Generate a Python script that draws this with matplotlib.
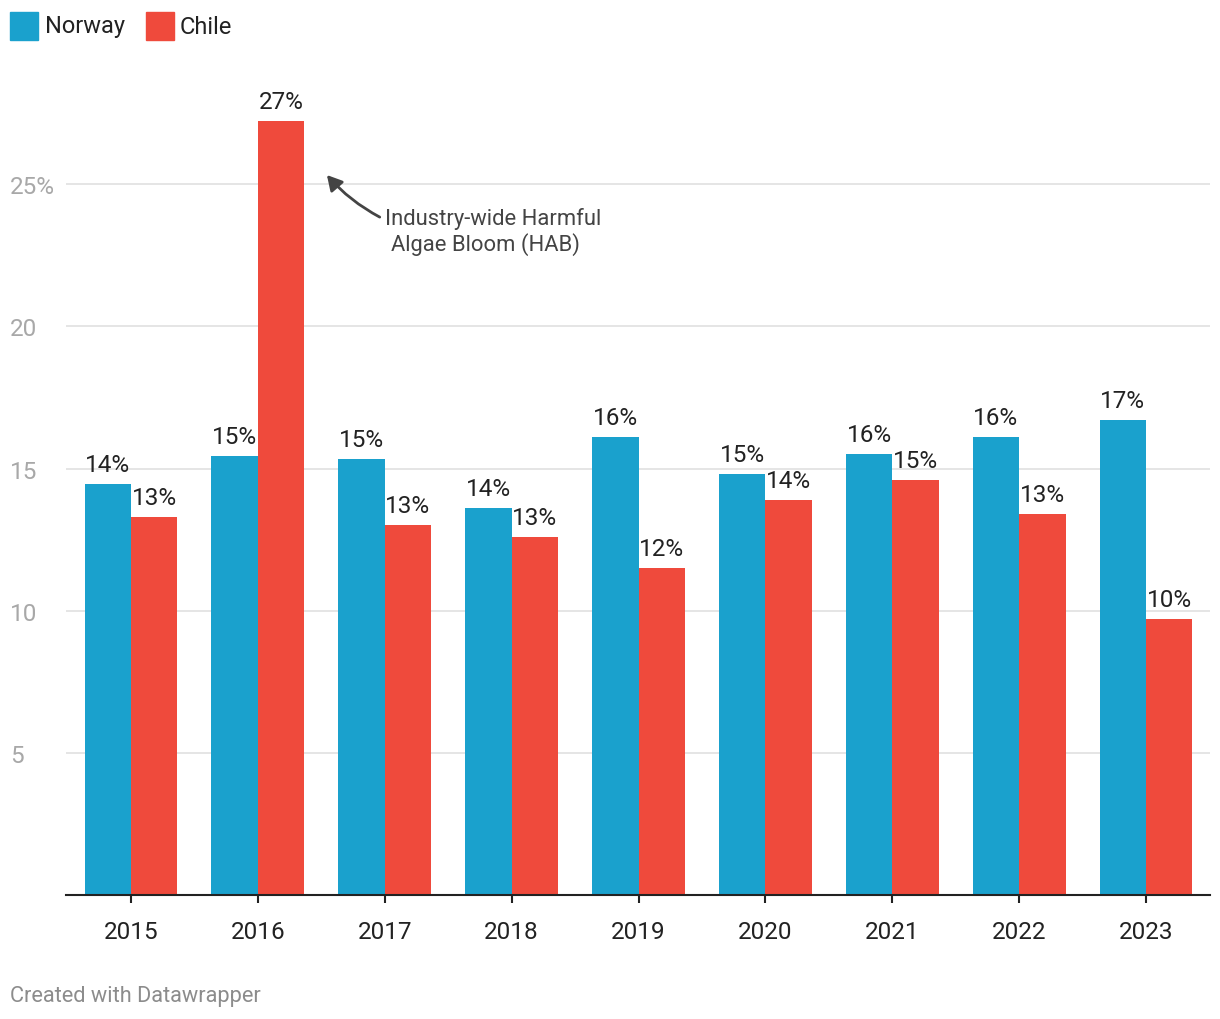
import numpy as np
import matplotlib.pyplot as plt

plt.rcParams['font.family'] = ['Roboto', 'DejaVu Sans']

years = ['2015', '2016', '2017', '2018', '2019', '2020', '2021', '2022', '2023']
norway = [14.45, 15.44, 15.33, 13.61, 16.10, 14.80, 15.51, 16.10, 16.70]
chile = [13.29, 27.21, 13.01, 12.59, 11.50, 13.89, 14.59, 13.40, 9.70]
norway_labels = ['14%', '15%', '15%', '14%', '16%', '15%', '16%', '16%', '17%']
chile_labels = ['13%', '27%', '13%', '13%', '12%', '14%', '15%', '13%', '10%']
yticks = [5, 10, 15, 20, 25]
ytick_labels = ['5', '10', '15', '20', '25%']

blue = '#1aa1cd'
red = '#ef4a3c'

fig = plt.figure(figsize=(12.2, 10.2), dpi=100)
ax = fig.add_axes([66 / 1220, 124 / 1020, 1144 / 1220, 796 / 1020])

x = np.arange(len(years))
w = 0.366
ax.bar(x - w / 2, norway, w, color=blue, zorder=2)
ax.bar(x + w / 2, chile, w, color=red, zorder=2)

for i in range(len(years)):
    ax.text(x[i] - w / 2, norway[i] + 0.3, norway_labels[i], ha='center', va='bottom',
            fontsize=17.5, color='#222222', zorder=3)
    ax.text(x[i] + w / 2, chile[i] + 0.3, chile_labels[i], ha='center', va='bottom',
            fontsize=17.5, color='#222222', zorder=3)

ax.set_xlim(-0.512, 8.504)
ax.set_ylim(0, 28)
ax.set_yticks(yticks)
ax.set_yticklabels(ytick_labels)
ax.grid(axis='y', color='#e3e3e3', linewidth=1.3, zorder=0)
ax.tick_params(axis='y', length=0, labelsize=17.5, labelcolor='#a8a8a8', pad=0)
for lbl in ax.get_yticklabels():
    lbl.set_horizontalalignment('left')
    lbl.set_x(-56 / 1144)
ax.set_xticks(x)
ax.set_xticklabels(years)
ax.tick_params(axis='x', length=6, width=1.5, color='#222222', labelsize=17.5,
               labelcolor='#222222', pad=12)
for s in ['top', 'right', 'left']:
    ax.spines[s].set_visible(False)
ax.spines['bottom'].set_color('#222222')
ax.spines['bottom'].set_linewidth(1.5)
ax.spines['bottom'].set_zorder(4)

ax.annotate('', xy=(1.53, 25.4), xytext=(1.98, 23.8),
            arrowprops=dict(arrowstyle='-|>,head_length=0.9,head_width=0.5', color='#444444',
                            lw=2, connectionstyle='arc3,rad=-0.1'))
ax.text(2.0, 23.8, 'Industry-wide Harmful', ha='left', va='center', fontsize=15.8,
        color='#444444')
ax.text(2.05, 22.9, 'Algae Bloom (HAB)', ha='left', va='center', fontsize=15.8,
        color='#444444')

# legend
fig.patches.append(plt.Rectangle((10 / 1220, 1 - 41 / 1020), 28 / 1220, 28 / 1020,
                                 transform=fig.transFigure, color=blue))
fig.text(45 / 1220, 1 - 27 / 1020, 'Norway', ha='left', va='center', fontsize=17,
         color='#222222')
fig.patches.append(plt.Rectangle((146 / 1220, 1 - 41 / 1020), 28 / 1220, 28 / 1020,
                                 transform=fig.transFigure, color=red))
fig.text(180 / 1220, 1 - 27 / 1020, 'Chile', ha='left', va='center', fontsize=17,
         color='#222222')

fig.text(10 / 1220, 1 - 997 / 1020, 'Created with Datawrapper', ha='left', va='center',
         fontsize=15.7, color='#8c8c8c')

fig.savefig('out.png', dpi=100)
